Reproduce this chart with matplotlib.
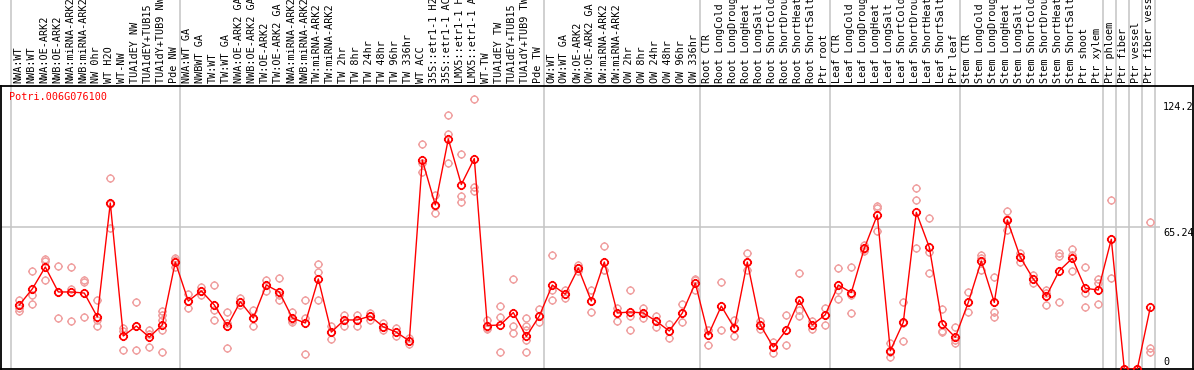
import numpy as np
import matplotlib; matplotlib.use("Agg")
import matplotlib.pyplot as plt
from matplotlib.path import Path
import matplotlib.transforms as mtrans

gene = "Potri.006G076100"
samples = ["NWA:WT", "NWB:WT", "NWA:OE-ARK2", "NWB:OE-ARK2", "NWA:miRNA-ARK2", "NWB:miRNA-ARK2",
           "NW 0hr", "WT H2O", "WT-NW", "TUA1dEY NW", "TUA1dEY+TUB15", "TUA1dY+TUB9 NW", "Pde NW",
           "NWA:WT GA", "NWBWT GA", "TW:WT", "TW:WT GA", "NWA:OE-ARK2 GA", "NWB:OE-ARK2 GA",
           "TW:OE-ARK2", "TW:OE-ARK2 GA", "NWA:miRNA-ARK2", "NWB:miRNA-ARK2", "TW:miRNA-ARK2",
           "TW:miRNA-ARK2", "TW 2hr", "TW 8hr", "TW 24hr", "TW 48hr", "TW 96hr", "TW 336hr",
           "WT ACC", "35S::etr1-1 H2", "35S::etr1-1 AC", "LMX5::etr1-1 H", "LMX5::etr1-1 A",
           "WT-TW", "TUA1dEY TW", "TUA1dEY+TUB15", "TUA1dY+TUB9 TW", "Pde TW",
           "OW:WT", "OW:WT GA", "OW:OE-ARK2", "OW:OE-ARK2 GA", "OW:miRNA-ARK2", "OW:miRNA-ARK2",
           "OW 2hr", "OW 8hr", "OW 24hr", "OW 48hr", "OW 96hr", "OW 336hr",
           "Root CTR", "Root LongCold", "Root LongDroug", "Root LongHeat", "Root LongSalt",
           "Root ShortCold", "Root ShortDrou", "Root ShortHeat", "Root ShortSalt", "Ptr root",
           "Leaf CTR", "Leaf LongCold", "Leaf LongDroug", "Leaf LongHeat", "Leaf LongSalt",
           "Leaf ShortCold", "Leaf ShortDrou", "Leaf ShortHeat", "Leaf ShortSalt", "Ptr leaf",
           "Stem CTR", "Stem LongCold", "Stem LongDroug", "Stem LongHeat", "Stem LongSalt",
           "Stem ShortCold", "Stem ShortDrou", "Stem ShortHeat", "Stem ShortSalt", "Ptr shoot",
           "Ptr xylem", "Ptr phloem", "Ptr fiber", "Ptr vessel", "Ptr fiber vess"]

# mean expression (red line)
means = [29.5, 36.9, 47.0, 35.5, 35.5, 35.0, 24.0, 76.5, 15.2, 19.8, 14.7, 20.3, 49.3,
         31.3, 36.0, 29.5, 19.8, 31.0, 23.5, 38.7, 35.5, 23.5, 21.2, 41.5, 17.0, 22.6, 22.6,
         24.4, 19.4, 17.0, 12.9, 96.3, 75.6, 106.0, 85.0, 97.0, 20.0, 20.3, 26.0, 15.0, 24.4,
         38.7, 34.5, 46.5, 31.3, 49.3, 25.8, 26.3, 25.8, 22.0, 17.5, 25.8, 39.6,
         15.7, 29.0, 18.9, 49.3, 20.3, 10.1, 18.0, 31.8, 20.3, 25.0,
         38.7, 35.2, 55.6, 71.0, 8.4, 21.5, 72.2, 56.1, 20.7, 14.6,
         30.7, 49.8, 30.7, 68.7, 51.5, 41.5, 33.6, 45.3, 51.0, 37.2,
         36.4, 59.8, 0.0, 0.0, 28.4]

# replicate values (light circles)
reps = [[31.8, 28.1, 26.7], [45.2, 34.1, 30.0], [50.7, 49.8, 41.0], [47.5, 35.5, 23.5],
        [47.0, 36.9, 22.1], [41.0, 40.0, 24.0], [31.8, 22.6, 19.8], [88.0, 76.0, 65.0],
        [18.9, 17.5, 8.8], [30.9, 19.8, 8.8], [18.0, 16.0, 10.1], [26.7, 24.9, 22.6, 18.0, 7.8],
        [51.0, 50.2, 47.0], [34.6, 31.3, 28.1], [38.0, 36.0, 34.0], [38.7, 27.0, 22.6],
        [26.3, 21.2, 9.7], [32.7, 31.0, 29.3], [27.0, 23.5, 20.0], [41.0, 38.7, 36.0],
        [42.0, 34.1, 31.8], [26.3, 22.6, 21.5], [31.8, 23.5, 6.9], [48.4, 44.7, 31.8],
        [20.0, 17.0, 14.0], [25.0, 22.6, 20.0], [25.0, 22.6, 20.0], [26.0, 24.4, 22.8],
        [21.0, 19.4, 17.8], [19.0, 17.0, 15.0], [14.5, 12.9, 11.3], [103.7, 95.0, 90.8],
        [80.0, 75.0, 72.0], [117.0, 108.3, 95.0], [99.0, 79.7, 77.0], [124.2, 84.0, 82.0],
        [22.6, 19.0, 18.4], [24.0, 29.0, 7.8], [41.5, 20.0, 16.5], [23.5, 20.0, 18.0, 13.4, 7.8],
        [27.6, 24.4, 21.7], [52.5, 36.4, 31.8], [36.4, 34.5, 32.6], [48.0, 46.5, 45.0],
        [36.4, 31.3, 26.3], [56.7, 45.6, 45.6], [28.0, 25.8, 22.0], [36.4, 24.5, 18.0],
        [28.0, 25.8, 23.6], [24.5, 22.0, 19.5], [20.7, 17.5, 14.3], [30.0, 25.8, 21.6],
        [41.0, 41.4, 36.4], [18.0, 18.1, 11.0], [29.0, 40.0, 18.0], [22.6, 18.9, 15.2],
        [53.5, 49.3, 45.6], [20.3, 22.0, 18.6], [7.4, 10.1, 12.4], [11.0, 25.0, 18.0],
        [44.2, 27.0, 24.2], [22.0, 20.3, 18.6], [28.1, 24.9, 20.3], [46.4, 36.4, 32.1],
        [46.9, 34.1, 25.7], [57.1, 54.5, 55.2], [75.3, 74.0, 63.6], [11.8, 8.0, 5.4],
        [30.7, 21.0, 12.8], [83.3, 77.7, 55.6], [69.4, 54.1, 44.1], [27.6, 17.6, 16.9],
        [19.2, 13.4, 11.8], [35.3, 30.7, 26.1], [52.5, 51.3, 45.6], [42.3, 26.4, 24.1],
        [72.8, 69.3, 64.0], [53.6, 51.5, 49.4], [43.3, 41.5, 39.7], [36.4, 34.9, 29.5],
        [53.3, 52.1, 30.7], [55.2, 52.6, 45.2], [46.9, 35.2, 28.7], [41.3, 39.5, 29.8],
        [77.9, 59.8, 41.8], [0.0, 0.0, 0.0], [0.0, 0.0, 0.0], [67.6, 9.8, 7.7]]

ymax_label = "124.2"
ymid_label = "65.24"
ymid = 65.24
separators = [12, 40, 52, 62, 72, 83, 84, 85, 86, 87]

W, H = 1194, 370
fig = plt.figure(figsize=(W / 100, H / 100), dpi=100)
ax = fig.add_axes([1 / W, 1 / H, 1192 / W, 283 / H])
mono = "DejaVu Sans Mono"
fs = 7.3

x = np.arange(len(samples))
ax.set_xlim((1 - 19.3) / 13, (1193 - 19.3) / 13)
ax.set_ylim(0, 283 / 2.17)
ax.set_xticks([]); ax.set_yticks([])
for s in ax.spines.values():
    s.set_color("black"); s.set_linewidth(1.3)

# ring marker with four little ticks
circ = Path.unit_circle()
ticks = Path([[0, 1], [0, 1.3], [0, -1], [0, -1.3], [1, 0], [1.3, 0], [-1, 0], [-1.3, 0]],
             [1, 2, 1, 2, 1, 2, 1, 2])
mk = Path.make_compound_path(circ, ticks)

blend = mtrans.blended_transform_factory(ax.transData, ax.transAxes)
top = 369 / 283
ax.vlines([-0.66] + [s + 0.37 for s in separators], 0, top, transform=blend,
          colors="#c4c4c4", lw=1.1, clip_on=False, zorder=1)
ax.hlines(ymid, ax.get_xlim()[0], (1160 - 19.3) / 13, colors="#c4c4c4", lw=1.1, zorder=1)

for i, r in enumerate(reps):
    ax.plot([i] * len(r), r, ls="none", marker=mk, ms=6.4, mfc="none", mec="#f0a0a0",
            mew=1.0, zorder=2)
ax.plot(x, means, color="red", lw=1.0, zorder=3)
ax.plot(x, means, ls="none", marker=mk, ms=6.6, mfc="none", mec="red", mew=1.2, zorder=4)

for i, lab in enumerate(samples):
    ax.text(i - 0.1, 1.0106, lab, transform=blend, rotation=90, ha="center", va="bottom",
            family=mono, fontsize=fs, clip_on=False)

ax.text(8.3 / 1192, (369 - 92) / 283, gene, transform=ax.transAxes, color="red",
        family=mono, fontsize=fs, ha="left", va="top")
xr = (1163 - 1) / 1192
ax.text(xr, (369 - 102) / 283, ymax_label, transform=ax.transAxes, family=mono,
        fontsize=fs, ha="left", va="top")
ax.text(xr, (369 - 228) / 283, ymid_label, transform=ax.transAxes, family=mono,
        fontsize=fs, ha="left", va="top")
ax.text(xr, (369 - 367) / 283, "0", transform=ax.transAxes, family=mono,
        fontsize=fs, ha="left", va="bottom")

fig.savefig("out.png", dpi=100)
